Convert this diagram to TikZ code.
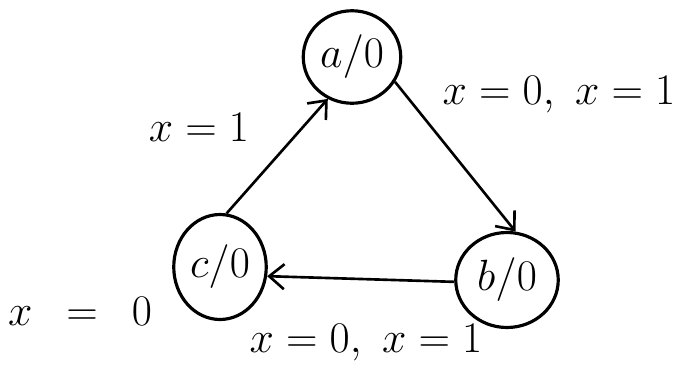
\documentclass[tikz,border=0pt]{standalone}
\usetikzlibrary{shapes.geometric,arrows.meta}

\tikzset{
  statenode/.style={ellipse, draw, line width=1.8pt, inner sep=0pt, font=\fontsize{25}{29}\selectfont},
  edgelabel/.style={font=\fontsize{25}{29}\selectfont, inner sep=1pt}
}

\begin{document}
\begin{tikzpicture}[line width=1.5pt, >={Straight Barb[length=3mm,width=5mm]}]

        \useasboundingbox (0,0) rectangle (13.48,7.44);

        % Define nodes (states)

        \node (a) at ( 7.04, 6.30 ) [statenode, minimum width=1.95cm, minimum height=1.85cm] {$a/0$};

        \node (b) at ( 10.14, 1.84 ) [statenode, minimum width=2.05cm, minimum height=1.9cm] {$b/0$};

        \node (c) at ( 4.40, 2.10 ) [statenode, minimum width=1.85cm, minimum height=2.1cm] {$c/0$};

        % Labels

        \node (lca) at ( 3.98, 4.90 ) [edgelabel] {$x=1$};

        \node (lab) at ( 11.18, 5.54 ) [edgelabel] {$x=0,\ x=1$};

        \node (lbc) at ( 7.32, 0.58 ) [edgelabel] {$x=0,\ x=1$};

        \node (lc) at ( 1.60, 1.22 ) [edgelabel] {$x\;\:=\;\:0$};

        % Draw arrows between nodes

        \draw[->] (c.83) -- (a.240);

        \draw[->] (a.330) -- (b.80);

        \draw[->] (b.182) -- (c.-11);

\end{tikzpicture}
\end{document}
